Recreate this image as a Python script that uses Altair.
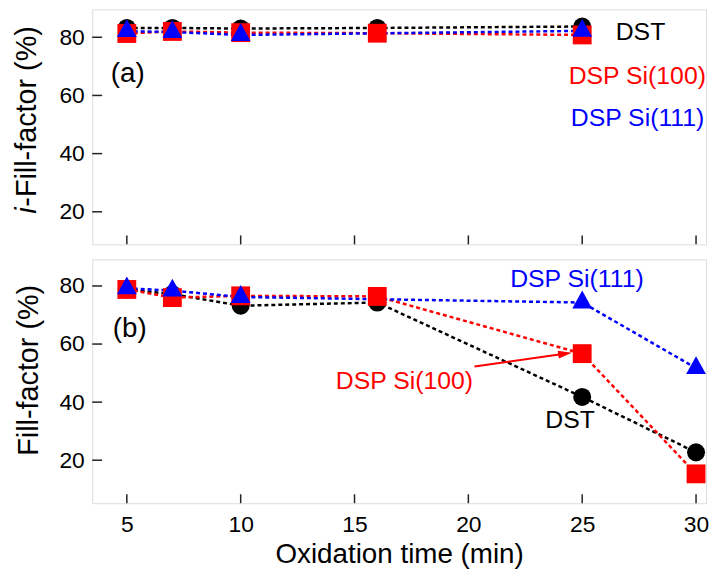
import altair as alt
import pandas as pd

# ---------------- data ----------------
series_names = ["DST", "DSP Si(100)", "DSP Si(111)"]
series_colors = ["#000000", "#ff0000", "#0000ff"]

# (a) i-Fill-factor
top_x_dst = [5, 7, 10, 16, 25]
top_dst = [83.2, 83.2, 83.0, 83.2, 83.7]
top_x_100 = [5, 7, 10, 16, 25]
top_si100 = [81.3, 82.0, 81.6, 81.4, 80.8]
top_x_111 = [5, 7, 10, 25]
top_si111 = [82.1, 81.8, 80.8, 82.2]

# (b) Fill-factor
bot_x_dst = [5, 7, 10, 16, 25, 30]
bot_dst = [78.8, 77.2, 73.2, 74.3, 41.8, 22.7]
bot_x_100 = [5, 7, 10, 16, 25, 30]
bot_si100 = [78.8, 76.0, 76.6, 76.4, 56.7, 15.3]
bot_x_111 = [5, 7, 10, 25, 30]
bot_si111 = [79.2, 78.4, 76.2, 74.3, 51.7]

x_ticks = [5, 10, 15, 20, 25, 30]
y_ticks = [20, 40, 60, 80]

# annotations (label, x, y, color-index)
top_labels = ["DST", "DSP Si(100)", "DSP Si(111)"]
top_label_x = [27.56, 27.42, 27.43]
top_label_y = [81.7, 66.7, 52.3]
top_label_c = [0, 1, 2]

bot_labels = ["DSP Si(111)", "DSP Si(100)", "DST"]
bot_label_x = [24.77, 17.19, 24.47]
bot_label_y = [82.3, 47.4, 33.9]
bot_label_c = [2, 1, 0]

# arrow in panel (b): start and head
arrow_x = [20.27]
arrow_y = [52.3]
arrow_x2 = [24.3]
arrow_y2 = [56.75]
head_x = [24.25]
head_y = [56.7]

# ---------------- style ----------------
FONT = "Liberation Sans"
W = 619
H_TOP = 237
H_BOT = 246
X_DOMAIN = [3.48, 30.44]
TOP_Y_DOMAIN = [8.8, 89.6]
BOT_Y_DOMAIN = [5.2, 89.2]
FRAME = "#222222"
TRI = "M0,-1.2L1,0.6L-1,0.6Z"
HEAD = "M1,0L-1,-0.55L-1,0.55Z"
YT_SIZE = 29


def sdf(xs, ys, name):
    return pd.DataFrame({"x": xs, "y": ys, "series": name})


def panel(frames, y_domain, height, bottom, labels_df, panel_tag, extra=None):
    xs = alt.Scale(domain=X_DOMAIN, nice=False, zero=False)
    ys = alt.Scale(domain=y_domain, nice=False, zero=False)
    df = pd.concat(frames, ignore_index=True)
    x_axis = alt.Axis(
        values=x_ticks, ticks=False, tickSize=0, domain=False, grid=False,
        labels=bottom, format="d", labelFont=FONT, labelFontSize=23,
        labelColor="#000", labelPadding=11,
        title="Oxidation time (min)" if bottom else None,
        titleFont=FONT, titleFontSize=28, titleFontWeight="normal",
        titleColor="#000", titlePadding=4,
    )
    y_axis = alt.Axis(
        values=y_ticks, ticks=False, tickSize=0, domain=False, grid=False,
        labelFont=FONT, labelFontSize=23, labelColor="#000", labelPadding=8,
        title=None,
    )
    X = alt.X("x:Q", scale=xs, axis=x_axis)
    Y = alt.Y("y:Q", scale=ys, axis=y_axis)
    cscale = alt.Scale(domain=series_names, range=series_colors)

    lines = alt.Chart(df).mark_line(strokeDash=[4, 3], strokeWidth=2.5).encode(
        x=X, y=Y,
        color=alt.Color("series:N", scale=cscale, legend=None),
        detail="series:N",
    )
    layers = [lines]
    shapes = ["circle", "square", TRI]
    sizes = [330, 361, 400]
    for name, col, shp, sz in zip(series_names, series_colors, shapes, sizes):
        layers.append(
            alt.Chart(df).transform_filter(alt.datum.series == name)
            .mark_point(filled=True, opacity=1, shape=shp, size=sz, color=col, strokeWidth=0)
            .encode(x=X, y=Y)
        )
    # inward ticks
    layers.append(
        alt.Chart(pd.DataFrame({"x": x_ticks})).mark_rule(color=FRAME, strokeWidth=1.5)
        .encode(x=X, y=alt.value(height), y2=alt.value(height - 9))
    )
    layers.append(
        alt.Chart(pd.DataFrame({"y": y_ticks})).mark_rule(color=FRAME, strokeWidth=1.5)
        .encode(y=Y, x=alt.value(0), x2=alt.value(10))
    )
    # annotations
    layers.append(
        alt.Chart(labels_df).mark_text(font=FONT, fontSize=25, align="center",
                                      baseline="middle", clip=True)
        .encode(x=X, y=Y, text="label:N", color=alt.Color("c:N", scale=None))
    )
    layers.append(
        alt.Chart(pd.DataFrame({"x": [panel_tag[1]], "y": [panel_tag[2]], "label": [panel_tag[0]]}))
        .mark_text(font=FONT, fontSize=28, align="center", baseline="middle", color="#000")
        .encode(x=X, y=Y, text="label:N")
    )
    if extra:
        layers.extend(extra(X, Y))
    return alt.layer(*layers).properties(width=W, height=height)


top_labels_df = pd.DataFrame({
    "x": top_label_x, "y": top_label_y, "label": top_labels,
    "c": [series_colors[i] for i in top_label_c],
})
bot_labels_df = pd.DataFrame({
    "x": bot_label_x, "y": bot_label_y, "label": bot_labels,
    "c": [series_colors[i] for i in bot_label_c],
})


def top_extra(X, Y):
    one = pd.DataFrame({"x": [0]})
    return [
        alt.Chart(one).mark_text(text="i", font=FONT, fontSize=YT_SIZE, fontStyle="italic",
                                 angle=270, align="left", baseline="middle", color="#000")
        .encode(x=alt.value(-66), y=alt.value(206)),
        alt.Chart(one).mark_text(text="-Fill-factor (%)", font=FONT, fontSize=YT_SIZE,
                                 angle=270, align="left", baseline="middle", color="#000")
        .encode(x=alt.value(-66), y=alt.value(199)),
    ]


def bot_extra(X, Y):
    one = pd.DataFrame({"x": [0]})
    arrow_df = pd.DataFrame({"x": arrow_x, "y": arrow_y, "x2": arrow_x2, "y2": arrow_y2})
    head_df = pd.DataFrame({"x": head_x, "y": head_y})
    return [
        alt.Chart(arrow_df).mark_rule(color="#ff0000", strokeWidth=2)
        .encode(x=X, y=Y, x2="x2:Q", y2="y2:Q"),
        alt.Chart(head_df).mark_point(shape=HEAD, size=196, filled=True, opacity=1,
                                      color="#ff0000", strokeWidth=0, angle=352)
        .encode(x=X, y=Y),
        alt.Chart(one).mark_text(text="Fill-factor (%)", font=FONT, fontSize=YT_SIZE,
                                 angle=270, align="center", baseline="middle", color="#000")
        .encode(x=alt.value(-64), y=alt.value(112)),
    ]


top = panel(
    [sdf(top_x_dst, top_dst, "DST"), sdf(top_x_100, top_si100, "DSP Si(100)"),
     sdf(top_x_111, top_si111, "DSP Si(111)")],
    TOP_Y_DOMAIN, H_TOP, False, top_labels_df, ("(a)", 5.04, 67.3), top_extra,
)
bot = panel(
    [sdf(bot_x_dst, bot_dst, "DST"), sdf(bot_x_100, bot_si100, "DSP Si(100)"),
     sdf(bot_x_111, bot_si111, "DSP Si(111)")],
    BOT_Y_DOMAIN, H_BOT, True, bot_labels_df, ("(b)", 5.13, 65.3), bot_extra,
)

chart = alt.vconcat(top, bot, spacing=15).properties(
    bounds="flush",
    padding={"left": 12, "top": 6, "right": 3, "bottom": 5},
).configure_view(
    stroke=FRAME, strokeWidth=1.5
).configure(background="white")

chart.save("out.html", embed_options={"renderer": "svg", "actions": False})
